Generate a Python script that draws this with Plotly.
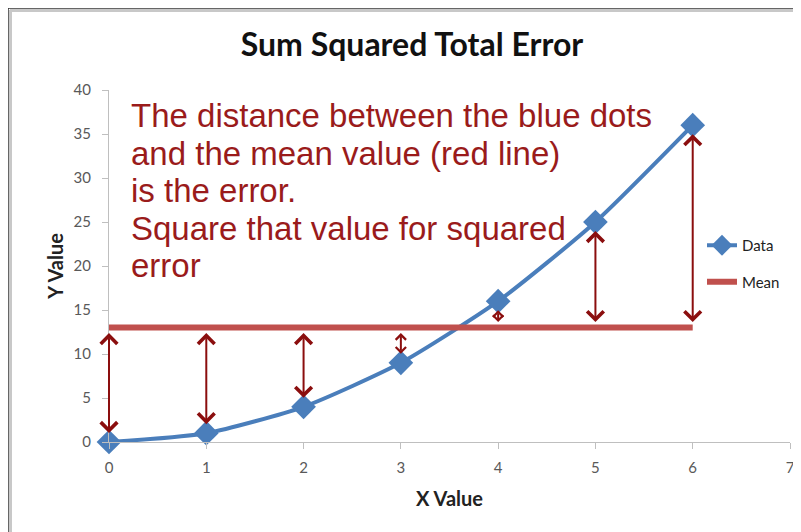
import plotly.graph_objects as go

# ── Data ──────────────────────────────────────────────────────────────
X_VALUES = [0, 1, 2, 3, 4, 5, 6]
Y_VALUES = [0, 1, 4, 9, 16, 25, 36]
MEAN_VALUE = sum(Y_VALUES) / len(Y_VALUES)  # 13

NOTE_LINES = [
    "The distance between the blue dots",
    "and the mean value (red line)",
    "is the error.",
    "Square that value for squared",
    "error",
]

# ── Style ─────────────────────────────────────────────────────────────
BLUE = "#4A7EBB"
RED = "#C0504D"
DARK_RED = "#8B0E0E"
NOTE_RED = "#9A1B1B"
AXIS_GREY = "#BFBFBF"
TICK_GREY = "#595959"
LABEL_FONT = "Lato"

# page body adds an 8px offset, positions below are in screen pixels
OFF = 8
W, H = 801, 532
M_L, M_R, M_T, M_B = 101, 19, 82, 98
PW, PH = W - M_L - M_R, H - M_T - M_B


def px_x(px):
    return (px - OFF - M_L) / PW


def px_y(py):
    return (H - M_B - (py - OFF)) / PH


fig = go.Figure()

fig.add_trace(
    go.Scatter(
        x=X_VALUES,
        y=Y_VALUES,
        mode="lines+markers",
        name="Data",
        legendgroup="data",
        cliponaxis=False,
        line=dict(color=BLUE, width=4, shape="spline", smoothing=0.6),
        marker=dict(symbol="diamond", size=19, color=BLUE),
    )
)

fig.add_trace(
    go.Scatter(
        x=[X_VALUES[0], X_VALUES[-1]],
        y=[MEAN_VALUE, MEAN_VALUE],
        mode="lines",
        name="Mean",
        legendgroup="mean",
        line=dict(color=RED, width=6),
    )
)

# double-headed error arrows between each point and the mean
for xv, yv in zip(X_VALUES, Y_VALUES):
    if yv == MEAN_VALUE:
        continue
    short = abs(yv - MEAN_VALUE) < 5
    head = 1.0 if short else 1.6
    fig.add_annotation(
        x=xv, y=yv, ax=xv, ay=MEAN_VALUE,
        xref="x", yref="y", axref="x", ayref="y",
        showarrow=True,
        arrowside="end+start",
        arrowhead=4, startarrowhead=4,
        arrowsize=head, startarrowsize=head,
        arrowwidth=2,
        arrowcolor=DARK_RED,
        standoff=9, startstandoff=4,
        text="",
    )

# explanatory note, one annotation per line
baselines = [126, 164, 201, 239, 276]
for line, base in zip(NOTE_LINES, baselines):
    fig.add_annotation(
        x=px_x(129), y=px_y(base - 11),
        xref="paper", yref="paper",
        xanchor="left", yanchor="middle",
        text=line, showarrow=False,
        font=dict(family="Liberation Sans, Arial", size=33, color=NOTE_RED),
    )

# picture frame (top and left edges)
frame = [
    dict(x0=px_x(8), x1=px_x(W + 20), y0=px_y(8), y1=px_y(8), color="#333333", width=1.5),
    dict(x0=px_x(10), x1=px_x(W + 20), y0=px_y(10.5), y1=px_y(10.5), color="#C8C8C8", width=3),
    dict(x0=px_x(8), x1=px_x(8), y0=px_y(8), y1=px_y(H + 20), color="#333333", width=1.5),
    dict(x0=px_x(10.5), x1=px_x(10.5), y0=px_y(10), y1=px_y(H + 20), color="#C8C8C8", width=3),
]
for f in frame:
    fig.add_shape(
        type="line", xref="paper", yref="paper",
        x0=f["x0"], x1=f["x1"], y0=f["y0"], y1=f["y1"],
        line=dict(color=f["color"], width=f["width"]),
    )

fig.update_xaxes(
    range=[0, 7],
    tickvals=list(range(0, 8)),
    showgrid=False, zeroline=False,
    showline=True, linecolor=AXIS_GREY, linewidth=1,
    ticks="outside", ticklen=6, tickcolor=AXIS_GREY,
    ticklabelstandoff=6,
    tickfont=dict(family=LABEL_FONT, size=15, color=TICK_GREY),
    title=dict(text="<b>X Value</b>", font=dict(family=LABEL_FONT, size=20, color="#222"), standoff=16),
)
fig.update_yaxes(
    range=[0, 40],
    tickvals=list(range(0, 41, 5)),
    showgrid=False, zeroline=False,
    showline=True, linecolor=AXIS_GREY, linewidth=1,
    ticks="outside", ticklen=6, tickcolor=AXIS_GREY,
    ticklabelstandoff=8,
    tickfont=dict(family=LABEL_FONT, size=15, color=TICK_GREY),
    title=dict(text="<b>Y Value</b>", font=dict(family=LABEL_FONT, size=20, color="#222"), standoff=4),
)

fig.update_layout(
    width=W, height=H,
    margin=dict(l=M_L, r=M_R, t=M_T, b=M_B),
    paper_bgcolor="white",
    plot_bgcolor="white",
    title=dict(
        text="<b>Sum Squared Total Error</b>",
        x=(412 - OFF) / W, xanchor="center",
        y=1 - (45 - OFF) / H, yanchor="middle",
        font=dict(family=LABEL_FONT, size=32, color="#111"),
    ),
    showlegend=True,
    legend=dict(
        x=px_x(702), y=px_y(229),
        xanchor="left", yanchor="top",
        traceorder="grouped", tracegroupgap=14,
        bgcolor="rgba(0,0,0,0)",
        font=dict(family=LABEL_FONT, size=15, color="#222"),
        itemwidth=30,
    ),
)

fig.write_html("out.html")
